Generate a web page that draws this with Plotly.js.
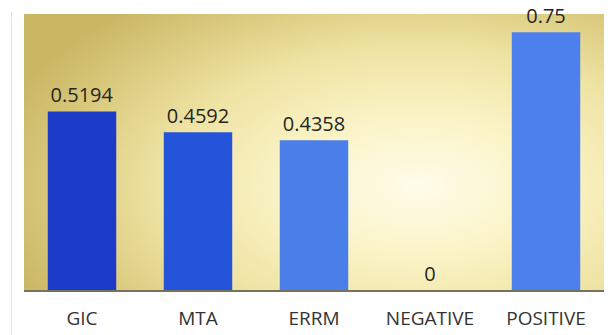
<!DOCTYPE html>
<html>
<head>
<meta charset="utf-8">
<script src="https://cdn.plot.ly/plotly-3.0.1.min.js"></script>
<style>
  html, body { margin: 0; padding: 0; background: #ffffff; }
  #wrap { position: relative; width: 614px; height: 335px; overflow: hidden; }
  #panel {
    position: absolute; left: 24px; top: 14px; width: 580px; height: 278px;
    background: radial-gradient(ellipse 75% 85% at 68% 62%, #fffcea 0%, #fbf4c8 28%, #efe4a4 58%, #d8c77a 85%, #c9b764 100%);
  }
  #edge { position: absolute; left: 11px; top: 12px; width: 1px; height: 323px; background: #e2e2e2; }
  #chart { position: absolute; left: 0; top: 0; width: 614px; height: 335px; }
</style>
</head>
<body>
<div id="wrap">
  <div id="edge"></div>
  <div id="panel"></div>
  <div id="chart"></div>
</div>
<script>
const categories = ["GIC", "MTA", "ERRM", "NEGATIVE", "POSITIVE"];
const values = [0.5194, 0.4592, 0.4358, 0, 0.75];
const valueLabels = ["0.5194", "0.4592", "0.4358", "0", "0.75"];
const barColors = ["#1c3bc8", "#2454d9", "#4a7ee8", "#4a7ee8", "#4d80ec"];

const trace = {
  type: "bar",
  x: categories,
  y: values,
  text: valueLabels,
  textposition: "outside",
  cliponaxis: false,
  textfont: { family: "Open Sans, sans-serif", size: 20, color: "#26261e" },
  marker: { color: barColors, line: { width: 0 } },
  hoverinfo: "none"
};

const layout = {
  width: 614, height: 335,
  margin: { l: 24, r: 10, t: 15, b: 45 },
  paper_bgcolor: "rgba(0,0,0,0)",
  plot_bgcolor: "rgba(0,0,0,0)",
  bargap: 0.41,
  showlegend: false,
  xaxis: {
    showline: true, linecolor: "#77725c", linewidth: 1.5,
    ticks: "", ticklabelstandoff: 11,
    tickfont: { family: "Open Sans, sans-serif", size: 19, color: "#333333" },
    showgrid: false, zeroline: false
  },
  yaxis: {
    range: [0, 0.8], visible: false, showgrid: false, zeroline: false
  }
};

Plotly.newPlot("chart", [trace], layout, { staticPlot: true, displayModeBar: false });
</script>
</body>
</html>
